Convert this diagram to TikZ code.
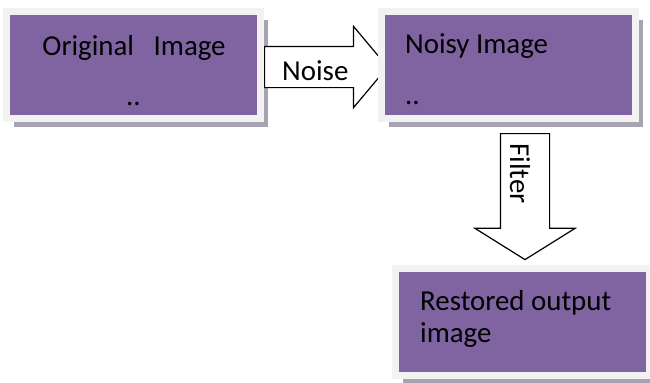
\documentclass[tikz,border=0pt]{standalone}
\usepackage{fontspec}
\setmainfont{Carlito}
\usepackage{tikz}
\usetikzlibrary{shapes.arrows,shadows}
\usepackage{xcolor}
\definecolor{boxpurple}{HTML}{8064A2}
\definecolor{framegray}{HTML}{F2F2F2}
\definecolor{shadowgray}{HTML}{A7A3B3}
\newcommand{\bigtxt}{\fontsize{29}{35}\selectfont}

\begin{document}
\begin{tikzpicture}[x=1bp, y=-1bp,
  imgbox/.style={fill=boxpurple, draw=framegray, line width=7bp, inner sep=0pt,
    minimum width=254bp, minimum height=107bp,
    drop shadow={shadow xshift=7.5bp, shadow yshift=-8.5bp, fill=shadowgray, opacity=1}},
  lbl/.style={font=\bigtxt, inner sep=0pt},
  blockarr/.style={single arrow, draw=black, fill=white, line width=1.2bp, inner xsep=0pt}]
  \useasboundingbox (0,0) rectangle (650,382);
  % first box
  \node[imgbox] (orig) at (133.5,65) {};
  \node[lbl, anchor=base] (origtxt) at (134,55) {Original\ \ \ Image};
  \node[lbl, anchor=base] (origdots) at (133.5,105) {..};
  % noise arrow, tip goes under the second box
  \node[blockarr, anchor=tail, minimum height=123bp, inner ysep=20bp,
    single arrow head extend=20bp, single arrow tip angle=100] (noise) at ([yshift=-2bp]orig.east) {};
  \node[lbl, anchor=base west] (noisetxt) at (282,80) {Noise};
  \node[imgbox] (noisy) at (508.5,64.5) {};
  \node[lbl, anchor=base west] (noisytxt) at (405,53) {Noisy Image};
  \node[lbl, anchor=base west] (noisydots) at (405,104) {..};
  % filter arrow down to the last box
  \node[blockarr, rotate=-90, anchor=tail, minimum height=126bp, inner ysep=24bp,
    single arrow head extend=25.5bp, single arrow tip angle=116] (filter) at ([xshift=16.5bp, yshift=-11.5bp]noisy.south) {};
  \node[lbl, rotate=-90, anchor=base west] (filtertxt) at (510,143) {Filter};
  \node[imgbox] (restored) at (522.5,322) {};
  \node[lbl, anchor=base west] (restxt) at (420,310) {Restored output};
  \node[lbl, anchor=base west] (restxtb) at (420,342) {image};
\end{tikzpicture}
\end{document}
